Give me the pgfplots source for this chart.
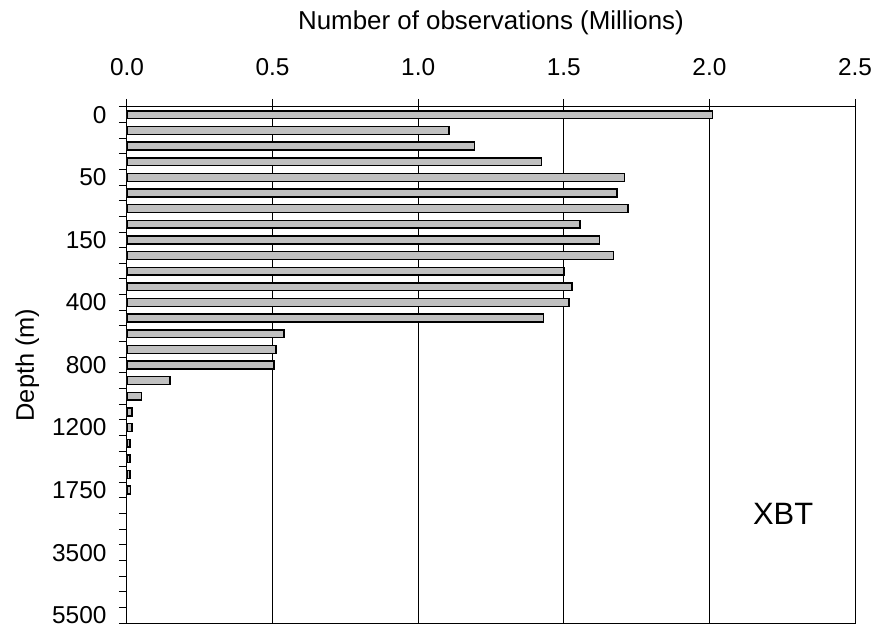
\documentclass[border=0pt]{standalone}
\usepackage{pgfplots}
\pgfplotsset{compat=1.18}
\usepackage{fontspec}
\setmainfont{Liberation Sans}
\definecolor{barfill}{RGB}{192,192,192}
\begin{document}
\begin{tikzpicture}[x=1bp,y=1bp]
\useasboundingbox (-127,-6) rectangle (752,623);
\begin{axis}[
  at={(0,0)}, anchor=south west,
  scale only axis, width=728bp, height=516bp,
  xbar, bar width=0.5,
  xmin=0, xmax=2.5, ymin=-0.5, ymax=32.5, y dir=reverse,
  axis line style={line width=1bp, black},
  xtick={0,0.5,1,1.5,2,2.5},
  xticklabel pos=right, xtick pos=right,
  xmajorgrids, grid style={line width=1bp, black},
  ytick={-0.5,0.5,...,32.5},
  yticklabels={0,,,,50,,,,150,,,,400,,,,800,,,,1200,,,,1750,,,,3500,,,,5500,},
  ytick pos=left,
  yticklabel style={yshift=-7.82bp, xshift=-9bp},
  tick align=outside, major tick length=8bp,
  tick style={line width=1bp, black},
  /pgf/number format/assume math mode=true,
  xticklabel style={yshift=20bp, /pgf/number format/fixed, /pgf/number format/fixed zerofill, /pgf/number format/precision=1},
  tick label style={font=\fontsize{24.5}{29}\selectfont},
  xlabel={Number of observations (Millions)},
  xlabel style={font=\fontsize{26}{30}\selectfont, at={(axis description cs:0.5,1.151)}, anchor=base},
  ylabel={Depth (m)},
  ylabel style={font=\fontsize{25.5}{30}\selectfont, at={(axis description cs:-0.137,0.5)}, anchor=center},
]
\addplot[draw=black, line width=1.5bp, fill=barfill] coordinates {
(2.011,0) (1.105,1) (1.193,2) (1.424,3) (1.709,4) (1.682,5) (1.720,6)
(1.556,7) (1.622,8) (1.670,9) (1.501,10) (1.528,11) (1.517,12) (1.430,13)
(0.540,14) (0.511,15) (0.505,16) (0.148,17) (0.050,18) (0.017,19) (0.017,20)
(0.011,21) (0.011,22) (0.011,23) (0.012,24)
};
\node[font=\fontsize{31}{36}\selectfont] at (axis cs:2.253,25.49) {XBT};
\end{axis}
\end{tikzpicture}
\end{document}
